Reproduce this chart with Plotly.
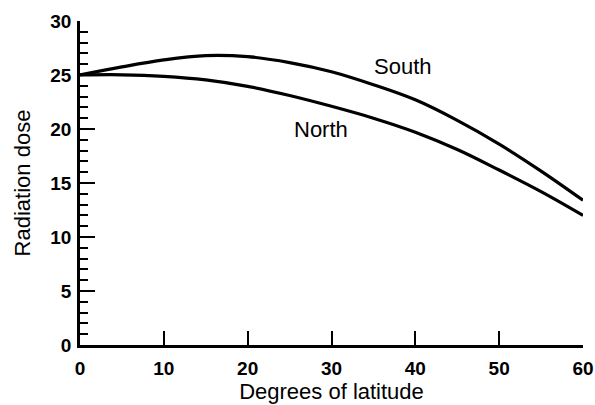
import plotly.graph_objects as go

latitude = [0, 5, 10, 15, 20, 25, 30, 35, 40, 45, 50, 55, 60]
south = [25.0, 25.75, 26.4, 26.8, 26.7, 26.15, 25.3, 24.1, 22.7, 20.8, 18.6, 16.1, 13.4]
north = [25.0, 25.02, 24.88, 24.55, 23.95, 23.1, 22.1, 21.0, 19.7, 18.1, 16.2, 14.2, 12.0]
labels = ["South", "North"]
label_pos = [(38.5, 25.8), (28.8, 20.0)]

FONT = "Liberation Sans, Arial, Helvetica"

fig = go.Figure()
fig.add_trace(go.Scatter(x=latitude, y=south, mode="lines", name=labels[0],
                         line=dict(color="black", width=3.2, shape="spline", smoothing=1.0)))
fig.add_trace(go.Scatter(x=latitude, y=north, mode="lines", name=labels[1],
                         line=dict(color="black", width=3.2, shape="spline", smoothing=1.0)))

for lab, (lx, ly) in zip(labels, label_pos):
    fig.add_annotation(x=lx, y=ly, text=lab, showarrow=False,
                       font=dict(family=FONT, size=22, color="black"))

tickfont = dict(size=19, family=FONT, weight="bold", color="black")
fig.update_layout(
    width=595, height=405,
    margin=dict(l=80, r=12, t=21, b=60),
    paper_bgcolor="white", plot_bgcolor="white",
    showlegend=False,
    font=dict(family=FONT, color="black"),
    xaxis=dict(range=[0, 60], tick0=0, dtick=10, ticks="inside", ticklen=14, tickwidth=2,
               tickcolor="black", showline=True, linecolor="black", linewidth=2.5,
               showgrid=False, zeroline=False, tickfont=tickfont, automargin=False,
               ticklabelstandoff=4,
               title=dict(text="Degrees of latitude", font=dict(size=22, family=FONT), standoff=4)),
    yaxis=dict(range=[0, 30], tick0=0, dtick=5, ticks="inside", ticklen=15, tickwidth=2,
               tickcolor="black", showline=True, linecolor="black", linewidth=2.5,
               showgrid=False, zeroline=False, tickfont=tickfont, automargin=False,
               ticklabelstandoff=2,
               minor=dict(ticks="inside", ticklen=8, tickwidth=2, dtick=1, tickcolor="black", showgrid=False),
               title=dict(text="Radiation dose", font=dict(size=22, family=FONT), standoff=14)),
)
fig.write_html("out.html")
